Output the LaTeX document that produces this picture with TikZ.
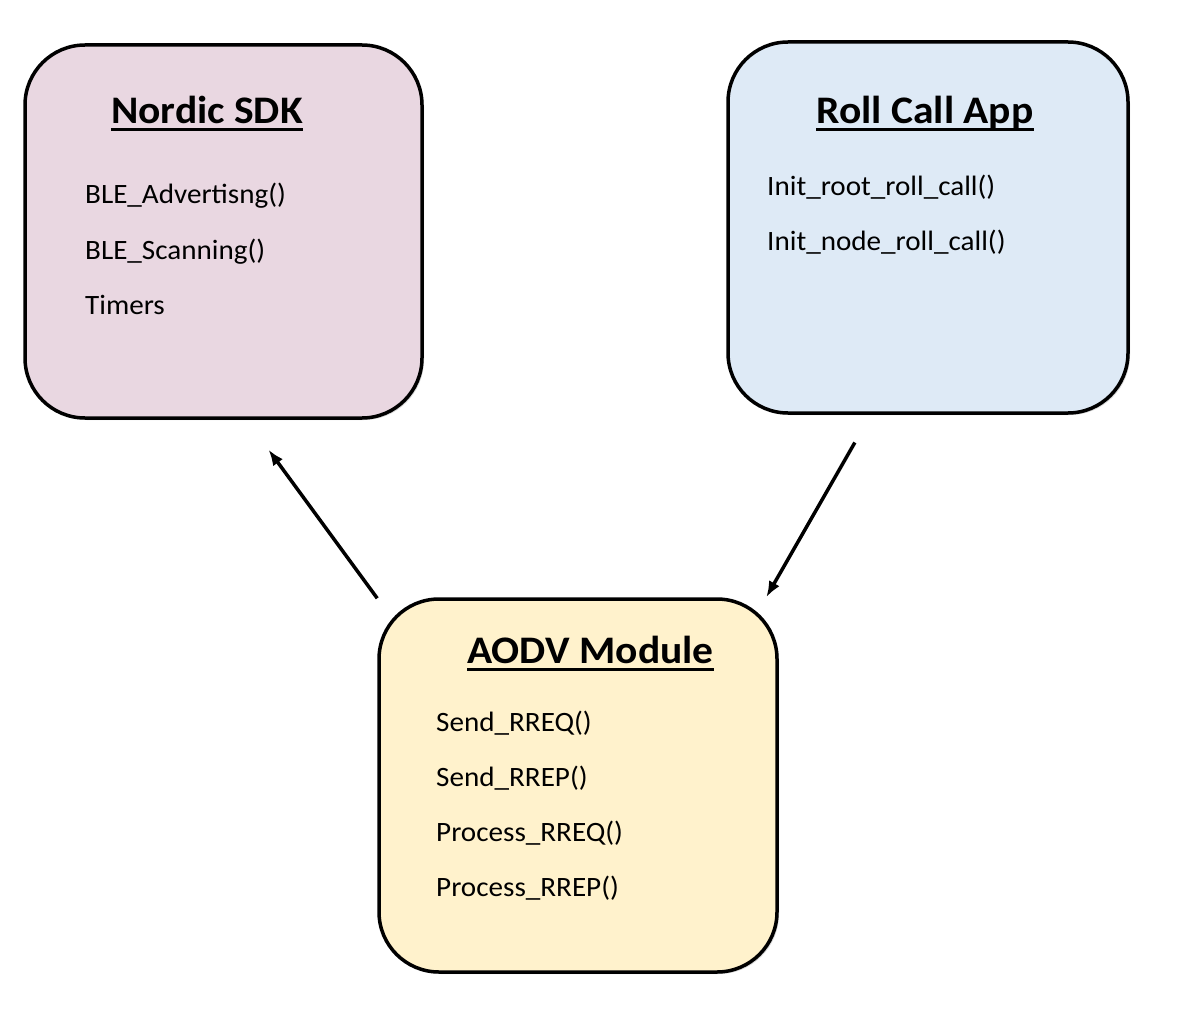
\documentclass[tikz,border=0pt]{standalone}
\usepackage{fontspec}
\setmainfont{Carlito}[FakeStretch=1.04]
\newfontfamily\titlefont{Carlito}[FakeStretch=1.065]
\usetikzlibrary{positioning,shadows,arrows.meta}
\tikzset{>={Latex[length=16pt,width=12pt]}}
\definecolor{sdkpink}{HTML}{E9D7E1}
\definecolor{appblue}{HTML}{DEEAF6}
\definecolor{aodvyellow}{HTML}{FFF2CC}

\begin{document}
\begin{tikzpicture}[x=1pt,y=-1pt,
  box/.style={draw,line width=3.5pt,rounded corners=60pt,
    drop shadow={shadow xshift=2pt,shadow yshift=-2pt,opacity=0.3}},
  title/.style={font=\titlefont\fontsize{39}{46}\selectfont\bfseries,anchor=base,inner sep=0pt},
  item/.style={font=\fontsize{28}{34}\selectfont,anchor=base west,inner sep=0pt}]
\useasboundingbox (0,0) rectangle (1178,1022);
% the three modules
\node[box,fill=sdkpink,minimum width=397pt,minimum height=373pt] (sdk) at (223.5,231.5) {};
\node[box,fill=appblue,minimum width=400pt,minimum height=371pt] (roll) at (928,227.5) {};
\node[box,fill=aodvyellow,minimum width=398pt,minimum height=373pt] (aodv) at (578,785.5) {};
% titles
\node[title] (sdkt) at (207,123.3) {Nordic SDK};
\node[title] (rollt) at (925,123.3) {Roll Call App};
\node[title] (aodvt) at (590.5,663) {AODV Module};
\foreach \t in {sdkt,rollt,aodvt}
  \draw[line width=3pt] ([yshift=-6.7pt]\t.base west) -- ([yshift=-6.7pt]\t.base east);
% functions
\foreach \f [count=\i] in {BLE\_Advertisng(),BLE\_Scanning(),Timers}
  \node[item] (sdk\i) at (85,{204+55*(\i-1)}) {\f};
\foreach \f [count=\i] in {Init\_root\_roll\_call(),Init\_node\_roll\_call()}
  \node[item] (roll\i) at (767,{195+55.5*(\i-1)}) {\f};
\foreach \f [count=\i] in {Send\_RREQ(),Send\_RREP(),Process\_RREQ(),Process\_RREP()}
  \node[item] (aodv\i) at (436,{731+55*(\i-1)}) {\f};
% calls
\draw[->,line width=3.5pt,shorten >=37pt] (aodv.137) -- (sdk.-83);
\draw[->,line width=3.5pt,shorten <=32pt] (roll.-107) -- (aodv.45.3);
\end{tikzpicture}
\end{document}
